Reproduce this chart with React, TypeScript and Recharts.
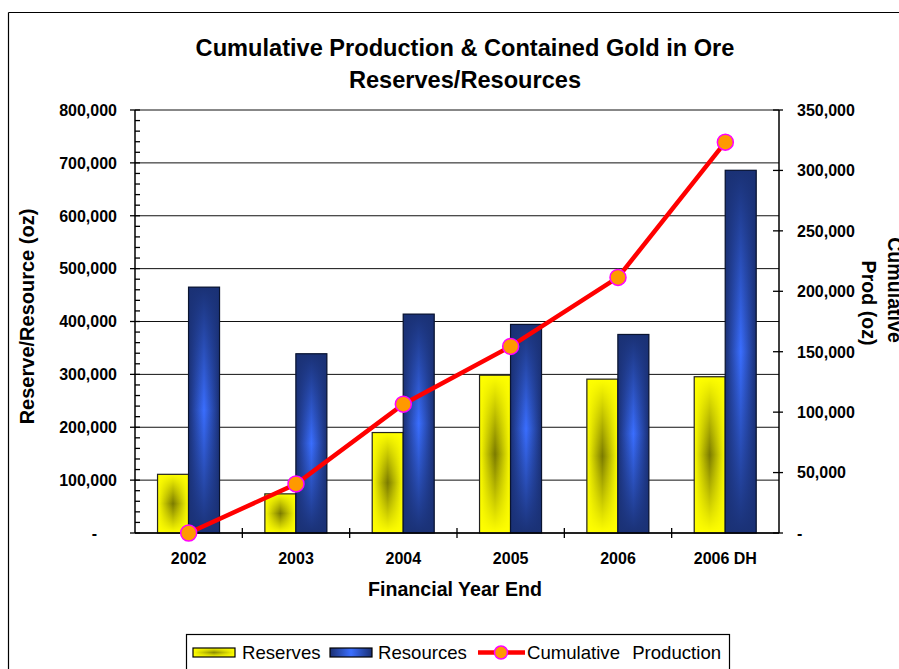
import React from 'react';
import { ComposedChart, Bar, Line, XAxis, YAxis, CartesianGrid } from 'recharts';

const years = ['2002', '2003', '2004', '2005', '2006', '2006 DH'];
const reserves = [111000, 74000, 190000, 298500, 291000, 295500];
const resources = [465000, 339000, 414000, 394500, 375500, 686000];
const cumulative = [0, 40600, 106600, 154400, 211500, 323400];

const leftTicks = [0, 100000, 200000, 300000, 400000, 500000, 600000, 700000, 800000];
const leftMinorStep = 20000;
const leftAllTicks = Array.from({ length: 800000 / leftMinorStep + 1 }, (_, i) => i * leftMinorStep);
const rightTicks = [0, 50000, 100000, 150000, 200000, 250000, 300000, 350000];

const data = years.map((year, i) => ({
  year,
  reserves: reserves[i],
  resources: resources[i],
  cumulative: cumulative[i],
}));

const FONT = '"Liberation Sans", Arial, sans-serif';
const fmt = (v: number) => v.toLocaleString('en-US');

// Left axis: tick x == axis line (tickSize 0, tickMargin 0)
const LeftTick = (props: any) => {
  const { x, y, payload } = props;
  const v = payload.value;
  const major = leftTicks.includes(v);
  return (
    <g>
      <line x1={major ? x - 5 : x} x2={x + 5} y1={y} y2={y} stroke="#000" strokeWidth={1.3} />
      {major && (
        <text
          x={v === 0 ? x - 38 : x - 18}
          y={y}
          dy={5.8}
          textAnchor="end"
          fontFamily={FONT}
          fontWeight="bold"
          fontSize={16}
          fill="#000"
        >
          {v === 0 ? '-' : fmt(v)}
        </text>
      )}
    </g>
  );
};

// Right axis: tick x == axis line
const RightTick = (props: any) => {
  const { x, y, payload } = props;
  const v = payload.value;
  return (
    <g>
      <line x1={x - 6} x2={x + 4} y1={y} y2={y} stroke="#000" strokeWidth={1.3} />
      <text x={x + 18} y={y} dy={5.8} textAnchor="start" fontFamily={FONT} fontWeight="bold" fontSize={16} fill="#000">
        {v === 0 ? '-' : fmt(v)}
      </text>
    </g>
  );
};

// Category axis: label at band centre, tick mark at band boundary
const CatTick = (props: any) => {
  const { x, y, payload, index, visibleTicksCount, width } = props;
  const count = visibleTicksCount || years.length;
  const band = Number(width) / count;
  const showBoundary = Number.isFinite(band) && index < count - 1;
  return (
    <g>
      {showBoundary && (
        <line x1={x + band / 2} x2={x + band / 2} y1={y - 5} y2={y + 5} stroke="#000" strokeWidth={1.3} />
      )}
      <text x={x} y={y + 31} textAnchor="middle" fontFamily={FONT} fontWeight="bold" fontSize={16} fill="#000">
        {payload.value}
      </text>
    </g>
  );
};

const makeShape = (h: string, v: string, stroke: string) => (p: any) => {
  const { x, y, width, height } = p;
  if (!height || height <= 0) return null;
  return (
    <g>
      <rect x={x} y={y} width={width} height={height} fill={`url(#${h})`} />
      <rect x={x} y={y} width={width} height={height} fill={`url(#${v})`} />
      <rect x={x} y={y} width={width} height={height} fill="none" stroke={stroke} strokeWidth={1.2} />
    </g>
  );
};

const ReserveShape = makeShape('resH', 'resV', '#222');
const ResourceShape = makeShape('rscH', 'rscV', '#0a1430');

export default function App() {
  return (
    <div style={{ position: 'fixed', left: 0, top: 0, width: 899, height: 669, overflow: 'hidden', background: '#fff' }}>
      <div style={{ position: 'absolute', left: 0, top: 0 }}>
        <ComposedChart
          width={899}
          height={669}
          data={data}
          margin={{ top: 110, right: 0, bottom: 0, left: 0 }}
          barCategoryGap="21%"
          barGap={0}
        >
          <defs>
            <linearGradient id="resH" x1="0" y1="0" x2="1" y2="0">
              <stop offset="0" stopColor="#FFFF00" />
              <stop offset="0.5" stopColor="#7A7A00" />
              <stop offset="1" stopColor="#FFFF00" />
            </linearGradient>
            <linearGradient id="resV" x1="0" y1="0" x2="0" y2="1">
              <stop offset="0" stopColor="#FFFF00" stopOpacity={1} />
              <stop offset="0.5" stopColor="#FFFF00" stopOpacity={0} />
              <stop offset="1" stopColor="#FFFF00" stopOpacity={1} />
            </linearGradient>
            <linearGradient id="rscH" x1="0" y1="0" x2="1" y2="0">
              <stop offset="0" stopColor="#1A2F72" />
              <stop offset="0.5" stopColor="#3A6EFF" />
              <stop offset="1" stopColor="#1A2F72" />
            </linearGradient>
            <linearGradient id="rscV" x1="0" y1="0" x2="0" y2="1">
              <stop offset="0" stopColor="#1A3175" stopOpacity={1} />
              <stop offset="0.5" stopColor="#1A3175" stopOpacity={0} />
              <stop offset="1" stopColor="#1A3175" stopOpacity={1} />
            </linearGradient>
          </defs>
          <CartesianGrid
            yAxisId="left"
            xAxisId="cat"
            vertical={false}
            horizontalValues={leftTicks}
            stroke="#111"
            strokeWidth={1}
          />
          <XAxis
            xAxisId="cat"
            dataKey="year"
            height={136}
            axisLine={{ stroke: '#000', strokeWidth: 1.5 }}
            tickLine={false}
            tickSize={0}
            tickMargin={0}
            interval={0}
            tick={<CatTick />}
          />
          <YAxis
            yAxisId="left"
            width={135}
            domain={[0, 800000]}
            ticks={leftAllTicks}
            interval={0}
            axisLine={{ stroke: '#000', strokeWidth: 1.5 }}
            tickLine={false}
            tickSize={0}
            tickMargin={0}
            tick={<LeftTick />}
          />
          <YAxis
            yAxisId="right"
            orientation="right"
            width={120}
            domain={[0, 350000]}
            ticks={rightTicks}
            interval={0}
            axisLine={{ stroke: '#000', strokeWidth: 1.5 }}
            tickLine={false}
            tickSize={0}
            tickMargin={0}
            tick={<RightTick />}
          />
          <Bar dataKey="reserves" name="Reserves" xAxisId="cat" yAxisId="left" shape={ReserveShape} isAnimationActive={false} />
          <Bar dataKey="resources" name="Resources" xAxisId="cat" yAxisId="left" shape={ResourceShape} isAnimationActive={false} />
          <Line
            dataKey="cumulative"
            name="Cumulative Production"
            xAxisId="cat"
            yAxisId="right"
            type="linear"
            stroke="#FF0000"
            strokeWidth={4.5}
            dot={{ r: 8, fill: '#FF9900', stroke: '#FF00FF', strokeWidth: 1.5 }}
            isAnimationActive={false}
          />
        </ComposedChart>
      </div>
      <svg width={899} height={669} style={{ position: 'absolute', left: 0, top: 0, pointerEvents: 'none' }}>
        <defs>
          <linearGradient id="lgResH" x1="0" y1="0" x2="1" y2="0">
            <stop offset="0" stopColor="#FFFF00" />
            <stop offset="0.5" stopColor="#8A8A00" />
            <stop offset="1" stopColor="#FFFF00" />
          </linearGradient>
          <linearGradient id="lgResV" x1="0" y1="0" x2="0" y2="1">
            <stop offset="0" stopColor="#FFFF00" stopOpacity={1} />
            <stop offset="0.5" stopColor="#FFFF00" stopOpacity={0} />
            <stop offset="1" stopColor="#FFFF00" stopOpacity={1} />
          </linearGradient>
          <linearGradient id="lgRscH" x1="0" y1="0" x2="1" y2="0">
            <stop offset="0" stopColor="#1A2F72" />
            <stop offset="0.5" stopColor="#3A6EFF" />
            <stop offset="1" stopColor="#1A2F72" />
          </linearGradient>
        </defs>
        <line x1={8.5} y1={12.5} x2={899} y2={12.5} stroke="#000" strokeWidth={1.2} />
        <line x1={8.5} y1={12.5} x2={8.5} y2={669} stroke="#000" strokeWidth={1.2} />
        <text x={465} y={55.5} textAnchor="middle" fontFamily={FONT} fontWeight="bold" fontSize={23.6} fill="#000">
          Cumulative Production &amp; Contained Gold in Ore
        </text>
        <text x={465} y={87.5} textAnchor="middle" fontFamily={FONT} fontWeight="bold" fontSize={23.6} fill="#000">
          Reserves/Resources
        </text>
        <text x={455} y={596} textAnchor="middle" fontFamily={FONT} fontWeight="bold" fontSize={19.6} fill="#000">
          Financial Year End
        </text>
        <text transform="translate(34,316.5) rotate(-90)" textAnchor="middle" fontFamily={FONT} fontWeight="bold" fontSize={20} fill="#000">
          Reserve/Resource (oz)
        </text>
        <text transform="translate(862,303) rotate(90)" textAnchor="middle" fontFamily={FONT} fontWeight="bold" fontSize={19.6} fill="#000">
          Prod (oz)
        </text>
        <text transform="translate(888,290) rotate(90)" textAnchor="middle" fontFamily={FONT} fontWeight="bold" fontSize={19.6} fill="#000">
          Cumulative
        </text>
        <rect x={186.5} y={634.5} width={543} height={50} fill="#fff" stroke="#000" strokeWidth={1.2} />
        <rect x={193} y={648} width={42} height={9} fill="url(#lgResH)" />
        <rect x={193} y={648} width={42} height={9} fill="url(#lgResV)" />
        <rect x={193} y={648} width={42} height={9} fill="none" stroke="#000" strokeWidth={1.2} />
        <text x={242} y={658.5} fontFamily={FONT} fontSize={18.6} fill="#000">Reserves</text>
        <rect x={330} y={648} width={42} height={9} fill="url(#lgRscH)" stroke="#000" strokeWidth={1.2} />
        <text x={378} y={658.5} fontFamily={FONT} fontSize={18.6} fill="#000">Resources</text>
        <line x1={478} x2={525} y1={652.5} y2={652.5} stroke="#FF0000" strokeWidth={4.5} />
        <circle cx={501} cy={652.5} r={6.5} fill="#FF9900" stroke="#FF00FF" strokeWidth={1.5} />
        <text x={527} y={658.5} fontFamily={FONT} fontSize={18.6} wordSpacing={7} fill="#000">Cumulative Production</text>
      </svg>
    </div>
  );
}
